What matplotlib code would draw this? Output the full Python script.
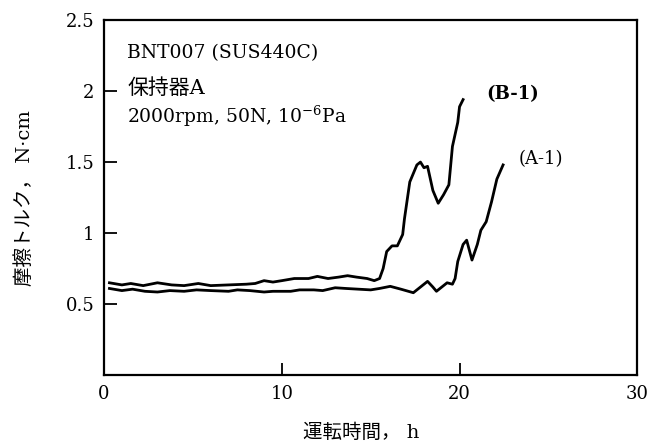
import matplotlib.pyplot as plt

plt.rcParams['font.family'] = ['DejaVu Serif', 'Noto Sans CJK JP']
plt.rcParams['axes.unicode_minus'] = False
plt.rcParams['mathtext.fontset'] = 'dejavuserif'

# friction torque vs running time, two retainer runs
time_b = [0.3, 1.0, 1.5, 2.2, 3.0, 3.8, 4.5, 5.3, 6.0, 7.0, 8.0, 8.5, 9.0, 9.5,
          10.0, 10.7, 11.5, 12.0, 12.6, 13.2, 13.7, 14.2, 14.8, 15.2, 15.5, 15.7,
          15.9, 16.2, 16.5, 16.8, 16.9, 17.2, 17.6, 17.8, 18.0, 18.2, 18.5, 18.8,
          19.1, 19.4, 19.6, 19.9, 20.0, 20.2]
torque_b = [0.65, 0.635, 0.645, 0.63, 0.65, 0.635, 0.63, 0.645, 0.63, 0.635, 0.64,
            0.645, 0.665, 0.655, 0.665, 0.68, 0.68, 0.695, 0.68, 0.69, 0.70, 0.69,
            0.68, 0.665, 0.68, 0.75, 0.87, 0.91, 0.91, 0.99, 1.10, 1.36, 1.48, 1.50,
            1.46, 1.47, 1.30, 1.21, 1.27, 1.34, 1.61, 1.78, 1.89, 1.94]

time_a = [0.3, 1.0, 1.6, 2.3, 3.0, 3.7, 4.5, 5.2, 6.0, 7.0, 7.5, 8.2, 9.0, 9.5,
          10.5, 11.0, 11.8, 12.3, 13.0, 13.6, 14.3, 15.0, 15.5, 16.1, 16.7, 17.4,
          17.9, 18.2, 18.5, 18.7, 19.0, 19.3, 19.6, 19.75, 19.9, 20.2, 20.4, 20.7,
          21.0, 21.2, 21.5, 21.8, 22.1, 22.45]
torque_a = [0.61, 0.595, 0.605, 0.59, 0.585, 0.595, 0.59, 0.60, 0.595, 0.59, 0.60,
            0.595, 0.585, 0.59, 0.59, 0.60, 0.60, 0.595, 0.615, 0.61, 0.605, 0.60,
            0.61, 0.625, 0.605, 0.58, 0.63, 0.66, 0.62, 0.59, 0.62, 0.65, 0.64, 0.68,
            0.80, 0.92, 0.95, 0.81, 0.92, 1.02, 1.08, 1.22, 1.38, 1.48]

xticks = [0, 10, 20, 30]
xtick_labels = ['0', '10', '20', '30']
yticks = [0.5, 1, 1.5, 2, 2.5]
ytick_labels = ['0.5', '1', '1.5', '2', '2.5']

fig = plt.figure(figsize=(6.59, 4.46), dpi=100)
ax = fig.add_axes([0.158, 0.159, 0.809, 0.796])

ax.plot(time_b, torque_b, color='black', lw=2)
ax.plot(time_a, torque_a, color='black', lw=2)

ax.set_xlim(0, 30)
ax.set_ylim(0, 2.5)
ax.set_xticks(xticks)
ax.set_xticklabels(xtick_labels)
ax.set_yticks(yticks)
ax.set_yticklabels(ytick_labels)
ax.tick_params(direction='in', length=9, width=1.3, labelsize=13, pad=7)
for s in ax.spines.values():
    s.set_linewidth(1.6)

ax.text(21.5, 1.98, '(B-1)', fontsize=13, fontweight='bold', va='center')
ax.text(23.3, 1.52, '(A-1)', fontsize=13, va='center')

ax.text(1.3, 2.27, 'BNT007 (SUS440C)', fontsize=13.5, va='center')
ax.text(1.3, 2.02, '保持器A', fontsize=15, va='center')
ax.text(1.3, 1.82, '2000rpm, 50N, 10$^{-6}$Pa', fontsize=13.5, va='center')

ax.set_ylabel('摩擦トルク， N·cm', fontsize=14, labelpad=23)
ax.set_xlabel('運転時間， h', fontsize=14)
ax.xaxis.set_label_coords(0.482, -0.138)

fig.savefig('out.png', dpi=100)
